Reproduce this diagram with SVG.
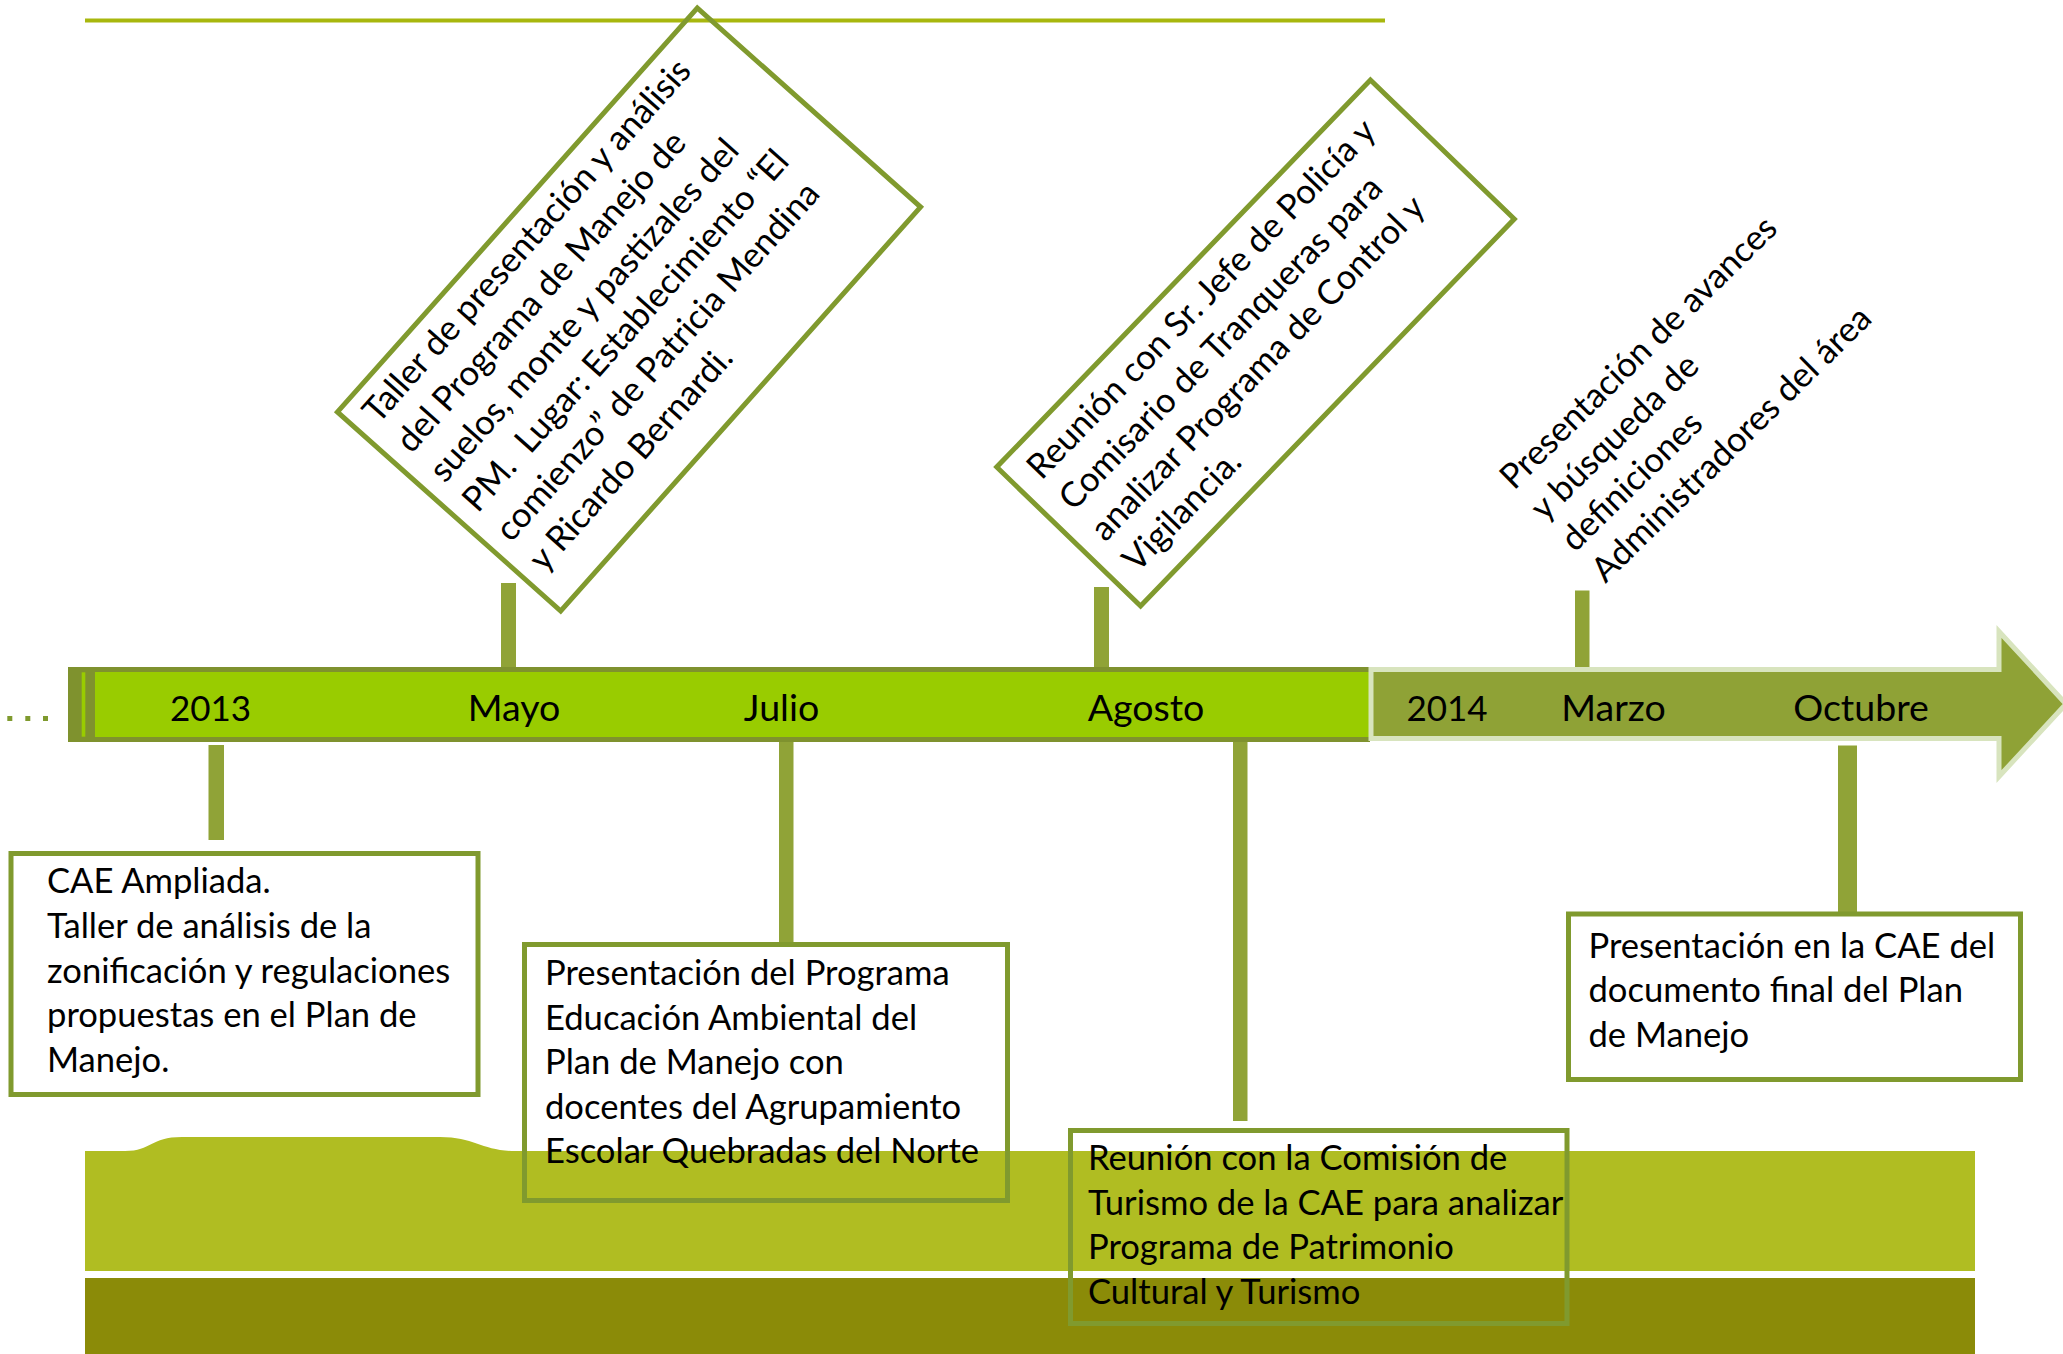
<svg xmlns="http://www.w3.org/2000/svg" width="2063" height="1354" viewBox="0 0 2063 1354">
<style>
.t{font-family:Lato,"Liberation Sans",sans-serif;font-size:34.6px;fill:#000}
.lbl{font-family:Lato,"Liberation Sans",sans-serif;font-size:37.5px;fill:#000;text-anchor:middle}
.yr{font-size:35px}
.box{fill:none;stroke:#809A2E;stroke-width:5}
.conn{fill:#90A337}
.dot{fill:#7F9A2E}
</style>
<rect width="2063" height="1354" fill="#fff"/>
<g id="decor">
<line x1="85" y1="20.5" x2="1385" y2="20.5" stroke="#A8B70E" stroke-width="4"/>
<path d="M85,1151 L125,1151 C152,1151 150,1137 182,1137 L440,1137 C475,1137 482,1151 515,1151 L1975,1151 L1975,1271 L85,1271 Z" fill="#B0BD22"/>
<rect x="85" y="1278" width="1890" height="76" fill="#8B8B08"/>
</g>
<g id="timeline">
<rect x="68" y="667" width="1302" height="75" fill="#7F922E"/>
<rect x="95" y="672" width="1275" height="65" fill="#99CC00"/>
<rect x="81.7" y="672.3" width="3.6" height="64.4" fill="#99CC00"/>
<polygon points="1371,669.5 1999,669.5 1999,631.5 2066,704 1999,776.5 1999,738.5 1371,738.5" fill="#8FA236" stroke="#D8E4BE" stroke-width="5" stroke-miterlimit="10"/>
<rect class="dot" x="7.3" y="716" width="5" height="5"/>
<rect class="dot" x="25.3" y="716" width="5" height="5"/>
<rect class="dot" x="43" y="716" width="5" height="5"/>
<text class="lbl yr" x="210.5" y="721">2013</text>
<text class="lbl" x="514" y="721">Mayo</text>
<text class="lbl" x="781.5" y="721">Julio</text>
<text class="lbl" x="1146" y="721">Agosto</text>
<text class="lbl yr" x="1447" y="721">2014</text>
<text class="lbl" x="1613.5" y="721">Marzo</text>
<text class="lbl" x="1861" y="721">Octubre</text>
</g>
<g id="connectors">
<rect class="conn" x="208.5" y="745" width="15.5" height="95"/>
<rect class="conn" x="501" y="583" width="15" height="84"/>
<rect class="conn" x="779" y="742" width="14.5" height="200"/>
<rect class="conn" x="1094" y="587" width="15" height="80"/>
<rect class="conn" x="1233" y="742" width="14.5" height="379"/>
<rect class="conn" x="1575" y="590.5" width="14.5" height="76.5"/>
<rect class="conn" x="1838" y="745.5" width="19" height="169.5"/>
</g>
<g id="node-taller" transform="translate(629,309.5) rotate(-48.3)">
<rect class="box" x="-270.5" y="-149.5" width="541" height="299"/>
<text class="t" x="-253" y="-110.5">Taller de presentación y análisis</text>
<text class="t" x="-253" y="-66">del Programa de Manejo de</text>
<text class="t" x="-253" y="-21.5">suelos, monte y pastizales del</text>
<text class="t" x="-253" y="23" xml:space="preserve">PM.  Lugar: Establecimiento “El</text>
<text class="t" x="-253" y="67.5">comienzo” de Patricia Mendina</text>
<text class="t" x="-253" y="112">y Ricardo Bernardi.</text>
</g>
<g id="node-reunion-policia" transform="translate(1255.5,343) rotate(-46)">
<rect class="box" x="-269" y="-100" width="538" height="200"/>
<text class="t" x="-248" y="-58">Reunión con Sr. Jefe de Policía y</text>
<text class="t" x="-248" y="-13.7">Comisario de Tranqueras para</text>
<text class="t" x="-248" y="30.6">analizar Programa de Control y</text>
<text class="t" x="-248" y="75">Vigilancia.</text>
</g>
<g id="node-presentacion-avances" transform="translate(1514,491) rotate(-44.5)">
<text class="t" x="0" y="0">Presentación de avances</text>
<text class="t" x="0" y="43.5">y búsqueda de</text>
<text class="t" x="0" y="87">definiciones</text>
<text class="t" x="0" y="130.5">Administradores del área</text>
</g>
<g id="node-cae-ampliada">
<rect class="box" x="11" y="853.5" width="467" height="241"/>
<text class="t" x="47" y="893">CAE Ampliada.</text>
<text class="t" x="47" y="938">Taller de análisis de la</text>
<text class="t" x="47" y="983">zonificación y regulaciones</text>
<text class="t" x="47" y="1027">propuestas en el Plan de</text>
<text class="t" x="47" y="1072">Manejo.</text>
</g>
<g id="node-educacion">
<rect class="box" x="524.5" y="944.5" width="483" height="256"/>
<text class="t" x="545" y="985">Presentación del Programa</text>
<text class="t" x="545" y="1030">Educación Ambiental del</text>
<text class="t" x="545" y="1074">Plan de Manejo con</text>
<text class="t" x="545" y="1118.5">docentes del Agrupamiento</text>
<text class="t" x="545" y="1163">Escolar Quebradas del Norte</text>
</g>
<g id="node-turismo">
<rect class="box" x="1070.5" y="1130.5" width="496.5" height="193"/>
<text class="t" x="1088" y="1170">Reunión con la Comisión de</text>
<text class="t" x="1088" y="1214.5">Turismo de la CAE para analizar</text>
<text class="t" x="1088" y="1259">Programa de Patrimonio</text>
<text class="t" x="1088" y="1303.5">Cultural y Turismo</text>
</g>
<g id="node-documento-final">
<rect class="box" x="1568.5" y="914" width="452" height="165.5"/>
<text class="t" x="1588.5" y="957.5">Presentación en la CAE del</text>
<text class="t" x="1588.5" y="1002">documento final del Plan</text>
<text class="t" x="1588.5" y="1047">de Manejo</text>
</g>
</svg>
